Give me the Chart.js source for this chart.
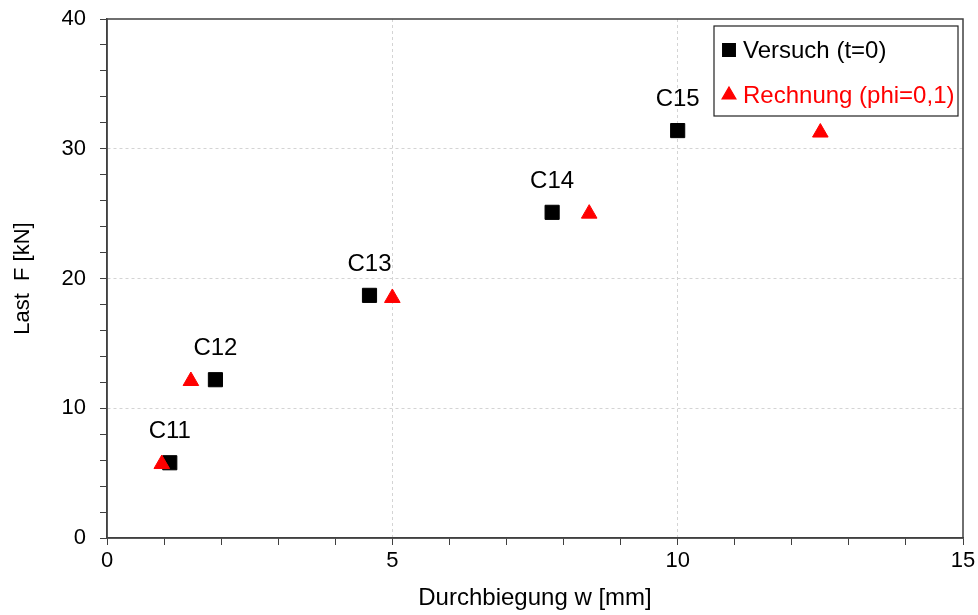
<!DOCTYPE html>
<html>
<head>
<meta charset="utf-8">
<script src="https://cdn.jsdelivr.net/npm/chart.js@4"></script>
<style>
  html, body { margin: 0; padding: 0; background: #fff; }
  #wrap { width: 978px; height: 615px; }
</style>
</head>
<body>
<div id="wrap"><canvas id="chart"></canvas></div>
<script>
// ── Data ─────────────────────────────────────────────────
const specimens  = ['C11', 'C12', 'C13', 'C14', 'C15'];
const versuchW   = [1.1, 1.9, 4.6, 7.8, 10.0];
const versuchF   = [5.8, 12.2, 18.7, 25.1, 31.4];
const rechnungW  = [0.96, 1.47, 5.0, 8.45, 12.5];
const rechnungF  = [5.7, 12.1, 18.5, 25.0, 31.25];
const xTickLabels = [0, 5, 10, 15];
const yTickLabels = [0, 10, 20, 30, 40];

const FONT = '"Liberation Sans", Arial, sans-serif';
const toPoints = (xs, ys) => xs.map((x, i) => ({ x, y: ys[i] }));

// ── Plugins: frame, point names, boxed legend ────────────
const frame = {
  id: 'frame',
  beforeDatasetsDraw(chart) {
    const { ctx, chartArea: a } = chart;
    ctx.save();
    ctx.strokeStyle = '#404040';
    ctx.lineWidth = 1.5;
    ctx.strokeRect(a.left, a.top, a.right - a.left, a.bottom - a.top);
    ctx.restore();
  },
};

const pointNames = {
  id: 'pointNames',
  afterDatasetsDraw(chart) {
    const { ctx } = chart;
    const meta = chart.getDatasetMeta(0);
    ctx.save();
    ctx.font = `24px ${FONT}`;
    ctx.fillStyle = '#000';
    ctx.textAlign = 'center';
    ctx.textBaseline = 'middle';
    meta.data.forEach((pt, i) => ctx.fillText(specimens[i], pt.x, pt.y - 31));
    ctx.restore();
  },
};

const boxLegend = {
  id: 'boxLegend',
  afterDraw(chart) {
    const { ctx, chartArea: a } = chart;
    const x = a.right - 249, y = a.top + 7, w = 244, h = 90;
    ctx.save();
    ctx.fillStyle = '#fff';
    ctx.fillRect(x, y, w, h);
    ctx.strokeStyle = '#222';
    ctx.lineWidth = 1.2;
    ctx.strokeRect(x, y, w, h);
    ctx.font = `24px ${FONT}`;
    ctx.textBaseline = 'middle';
    ctx.textAlign = 'left';
    chart.data.datasets.forEach((ds, i) => {
      const cy = y + 24 + i * 45;
      ctx.fillStyle = ds.backgroundColor;
      ctx.strokeStyle = ds.borderColor;
      Chart.helpers.drawPoint(ctx, {
        pointStyle: ds.pointStyle, radius: ds.pointRadius - 1, borderWidth: 1, rotation: 0,
      }, x + 15, cy);
      ctx.fillStyle = ds.backgroundColor;
      ctx.fillText(ds.label, x + 29, cy + 1);
    });
    ctx.restore();
  },
};

// ── Chart ────────────────────────────────────────────────
const gridColor = (major) => (ctx) => {
  const v = ctx.tick && ctx.tick.value;
  return v % major === 0 && v > ctx.scale.min && v < ctx.scale.max ? '#d4d4d4' : 'rgba(0,0,0,0)';
};

new Chart(document.getElementById('chart'), {
  type: 'scatter',
  data: {
    datasets: [
      {
        label: 'Versuch (t=0)',
        data: toPoints(versuchW, versuchF),
        pointStyle: 'rect',
        pointRadius: 10,
        borderWidth: 1,
        backgroundColor: '#000',
        borderColor: '#000',
        order: 2,
      },
      {
        label: 'Rechnung (phi=0,1)',
        data: toPoints(rechnungW, rechnungF),
        pointStyle: 'triangle',
        pointRadius: 9,
        borderWidth: 1,
        backgroundColor: '#ff0000',
        borderColor: '#ff0000',
        order: 1,
      },
    ],
  },
  options: {
    responsive: true,
    maintainAspectRatio: false,
    animation: false,
    layout: { autoPadding: false, padding: { left: 0, top: 19, right: 15, bottom: 0 } },
    scales: {
      x: {
        type: 'linear',
        min: 0,
        max: 15,
        afterFit: s => { s.height = 77; s.paddingLeft = 0; s.paddingRight = 0; },
        border: { color: '#404040', width: 1.5, dash: [3, 3] },
        grid: { color: gridColor(5), tickColor: '#404040', tickLength: 7, tickBorderDash: [] },
        ticks: {
          stepSize: 1,
          autoSkip: false,
          maxRotation: 0,
          padding: 3,
          color: '#000',
          font: { family: FONT, size: 22 },
          callback: v => (xTickLabels.includes(v) ? v : ''),
        },
        title: {
          display: true,
          text: 'Durchbiegung w [mm]',
          color: '#000',
          font: { family: FONT, size: 24 },
          padding: { top: 0, bottom: 2 },
        },
      },
      y: {
        type: 'linear',
        min: 0,
        max: 40,
        afterFit: s => { s.width = 107; s.paddingTop = 0; s.paddingBottom = 0; },
        border: { color: '#404040', width: 1.5, dash: [3, 3] },
        grid: { color: gridColor(10), tickColor: '#404040', tickLength: 7, tickBorderDash: [] },
        ticks: {
          stepSize: 2,
          autoSkip: false,
          padding: 14,
          color: '#000',
          font: { family: FONT, size: 22 },
          callback: v => (yTickLabels.includes(v) ? v : ''),
        },
        title: {
          display: true,
          text: 'Last  F [kN]',
          color: '#000',
          font: { family: FONT, size: 22 },
          padding: { top: 10, bottom: 0 },
        },
      },
    },
    plugins: {
      legend: { display: false },
      tooltip: { enabled: false },
    },
  },
  plugins: [frame, pointNames, boxLegend],
});
</script>
</body>
</html>
